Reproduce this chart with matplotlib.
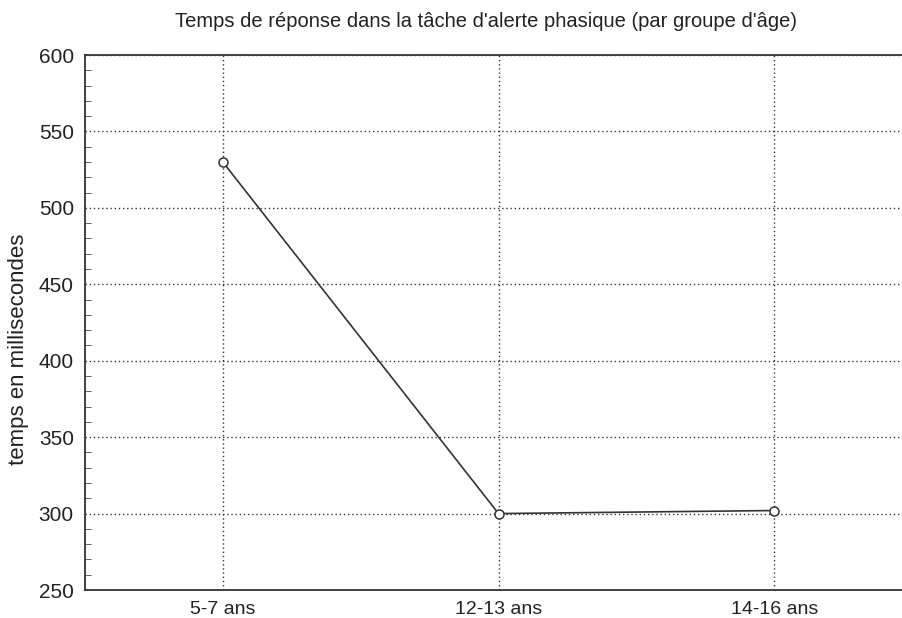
import numpy as np
import matplotlib.pyplot as plt
from matplotlib.ticker import MultipleLocator

plt.rcParams["font.family"] = ["Liberation Sans", "DejaVu Sans"]

# Daten
groupes = ["5-7 ans", "12-13 ans", "14-16 ans"]
temps_ms = [530, 300, 302]

fig = plt.figure(figsize=(9.02, 6.18), dpi=100)
# Achse geht rechts über den Bildrand hinaus (wie im Scan)
ax = fig.add_axes((0.0942, 0.0453, 0.917, 0.8657))

x = np.arange(len(groupes))
ax.plot(x, temps_ms, color="#333333", lw=1.2, marker="o", ms=6.5,
        mfc="white", mec="#333333", mew=1.1, zorder=3)

ax.set_xlim(-0.5, len(groupes) - 0.5)
ax.set_ylim(250, 600)
ax.set_xticks(x)
ax.set_xticklabels(groupes, fontsize=14, color="#222222")
ax.yaxis.set_major_locator(MultipleLocator(50))
ax.yaxis.set_minor_locator(MultipleLocator(10))
ax.tick_params(axis="y", which="major", direction="in", length=0,
               labelsize=15, labelcolor="#222222", pad=8)
ax.tick_params(axis="y", which="minor", direction="in", length=4,
               color="#444444")
ax.tick_params(axis="x", length=0, pad=8)

ax.grid(True, which="major", color="#333333", ls=(0, (1, 2)), lw=1.0)

for s in ["left", "top", "bottom"]:
    ax.spines[s].set_color("#333333")
    ax.spines[s].set_linewidth(1.3)
ax.spines["right"].set_visible(False)

# Beschriftungen (Position wie im Scan, leicht nach unten versetzt)
fig.text(0.02, 0.434, "temps en millisecondes", rotation=90, ha="center",
         va="center", fontsize=16, color="#222222")
fig.text(0.539, 0.965, "Temps de réponse dans la tâche d'alerte phasique (par groupe d'âge)",
         ha="center", va="center", fontsize=14.5, color="#222222")

fig.savefig("out.png", dpi=100)
